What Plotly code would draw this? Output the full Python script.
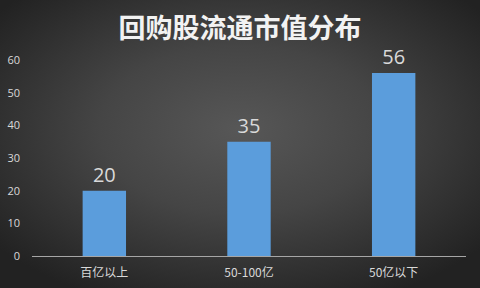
import plotly.graph_objects as go
import base64

categories = ["百亿以上", "50-100亿", "50亿以下"]
values = [20, 35, 56]
y_ticks = [0, 10, 20, 30, 40, 50, 60]

svg = ('<svg xmlns="http://www.w3.org/2000/svg" width="480" height="288">'
       '<defs><radialGradient id="g" cx="50%" cy="45%" r="65%">'
       '<stop offset="0%" stop-color="#575757"/>'
       '<stop offset="45%" stop-color="#454545"/>'
       '<stop offset="100%" stop-color="#222222"/>'
       '</radialGradient></defs>'
       '<rect width="480" height="288" fill="url(#g)"/></svg>')
src = "data:image/svg+xml;base64," + base64.b64encode(svg.encode()).decode()

fig = go.Figure()
fig.add_trace(go.Bar(
    x=categories, y=values,
    width=0.3,
    marker=dict(color="#5b9ddc", line=dict(width=0)),
    text=[str(v) for v in values],
    textposition="outside",
    textfont=dict(size=20, color="#d9d9d9", family="Open Sans, sans-serif"),
    cliponaxis=False,
))

fig.update_layout(
    width=480, height=288,
    margin=dict(l=32, r=14, t=60, b=32, autoexpand=False),
    paper_bgcolor="#333333",
    plot_bgcolor="rgba(0,0,0,0)",
    showlegend=False,
    bargap=0.7,
    images=[dict(source=src, xref="paper", yref="paper", x=-32/434, y=1+60/196,
                 sizex=480/434, sizey=288/196, xanchor="left", yanchor="top",
                 sizing="stretch", layer="below")],
    title=dict(text="<b>回购股流通市值分布</b>", x=0.5, xanchor="center",
               y=1-29/288, yanchor="middle",
               font=dict(size=27, color="#f2f2f2", family="Noto Sans CJK SC")),
    xaxis=dict(showline=True, linecolor="#a6a6a6", linewidth=1, ticks="",
               ticklabelstandoff=6, automargin=False,
               tickfont=dict(size=12, color="#d9d9d9", family="Noto Sans CJK SC"),
               showgrid=False),
    yaxis=dict(range=[0, 60], tickvals=y_ticks, showgrid=False, zeroline=False,
               showline=False, ticks="", ticklabelstandoff=11, automargin=False,
               tickfont=dict(size=11, color="#d9d9d9", family="Open Sans, sans-serif")),
)

fig.write_html("out.html")
